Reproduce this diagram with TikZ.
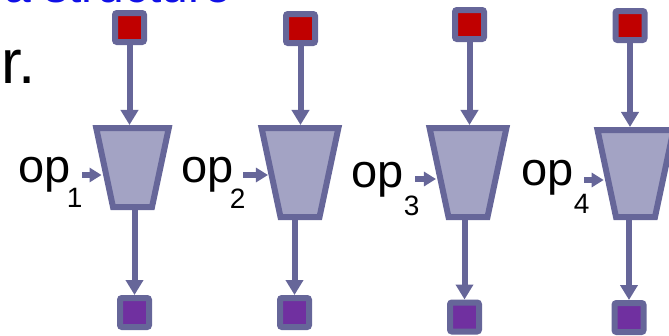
\documentclass[tikz,border=0pt]{standalone}
\usepackage{fontspec}
\setmainfont{Liberation Sans}
\usetikzlibrary{shapes.geometric,arrows.meta}
\definecolor{edgeblue}{RGB}{102,102,153}
\definecolor{muxfill}{RGB}{163,163,196}
\definecolor{inred}{RGB}{192,0,0}
\definecolor{outpurple}{RGB}{112,48,160}
\definecolor{titleblue}{RGB}{16,16,230}
\newcommand{\opsub}[3]{op\kern#1pt\raisebox{-#2pt}{\fontsize{28}{28}\selectfont #3}}

\begin{document}
\begin{tikzpicture}[x=1pt,y=-1pt,
  every node/.append style={inner sep=0pt},
  port/.style={draw=edgeblue,line width=6pt,rounded corners=2pt,minimum size=29pt},
  insq/.style={port,fill=inred},
  outsq/.style={port,fill=outpurple},
  mux/.style={trapezium,shape border rotate=180,trapezium angle=78,draw=edgeblue,fill=muxfill,line width=6pt,inner xsep=19.5pt,inner ysep=44.5pt},
  wire/.style={draw=edgeblue,line width=6pt,-{Triangle[width=17pt,length=15pt]}},
  sel/.style={draw=edgeblue,line width=6pt,-{Triangle[width=14pt,length=12pt]}},
  oplabel/.style={anchor=base west,font=\fontsize{47}{47}\selectfont}]
\useasboundingbox (0,0) rectangle (669,335);
\clip (0,0) rectangle (669,335);
% clipped slide text
\node[anchor=base west,font=\fontsize{48}{48}\selectfont,text=titleblue] (title) at (4,2) {a structure};
\node[anchor=base west,font=\fontsize{62}{62}\selectfont] (tail) at (1,83) {r.};
% stage 1
\node[insq] (in1) at (129.5,27.5) {};
\node[mux,inner xsep=19.5pt,inner ysep=39.5pt] (mux1) at (132.5,167.5) {};
\node[outsq] (out1) at (134.5,312.5) {};
\node[oplabel] (op1) at (18.4,182) {\opsub{-4}{25}{1}};
\coordinate (s1) at (82,175);
\draw[wire] (in1.south) -- (in1.south |- mux1.north);
\draw[wire] (out1.north |- mux1.south) -- (out1.north);
\draw[sel] (s1) -- (s1 -| mux1.west);
% stage 2
\node[insq] (in2) at (300.5,28.5) {};
\node[mux] (mux2) at (300,172.5) {};
\node[outsq] (out2) at (294.5,312.5) {};
\node[oplabel] (op2) at (181.4,182) {\opsub{-4}{26}{2}};
\coordinate (s2) at (243,175);
\draw[wire] (in2.south) -- (in2.south |- mux2.north);
\draw[wire] (out2.north |- mux2.south) -- (out2.north);
\draw[sel] (s2) -- (s2 -| mux2.west);
% stage 3
\node[insq] (in3) at (469.5,24.5) {};
\node[mux] (mux3) at (468,172.5) {};
\node[outsq] (out3) at (464.5,317) {};
\node[oplabel] (op3) at (351.4,187) {\opsub{0}{28}{3}};
\coordinate (s3) at (415,179);
\draw[wire] (in3.south) -- (in3.south |- mux3.north);
\draw[wire] (out3.north |- mux3.south) -- (out3.north);
\draw[sel] (s3) -- (s3 -| mux3.west);
% stage 4
\node[insq] (in4) at (630,25.5) {};
\node[mux,inner ysep=43.5pt] (mux4) at (635.5,173.5) {};
\node[outsq] (out4) at (629,317.5) {};
\node[oplabel] (op4) at (521.4,185) {\opsub{0}{28}{4}};
\coordinate (s4) at (584,180);
\draw[wire] (in4.south) -- (in4.south |- mux4.north);
\draw[wire] (out4.north |- mux4.south) -- (out4.north);
\draw[sel] (s4) -- (s4 -| mux4.west);
\end{tikzpicture}
\end{document}
